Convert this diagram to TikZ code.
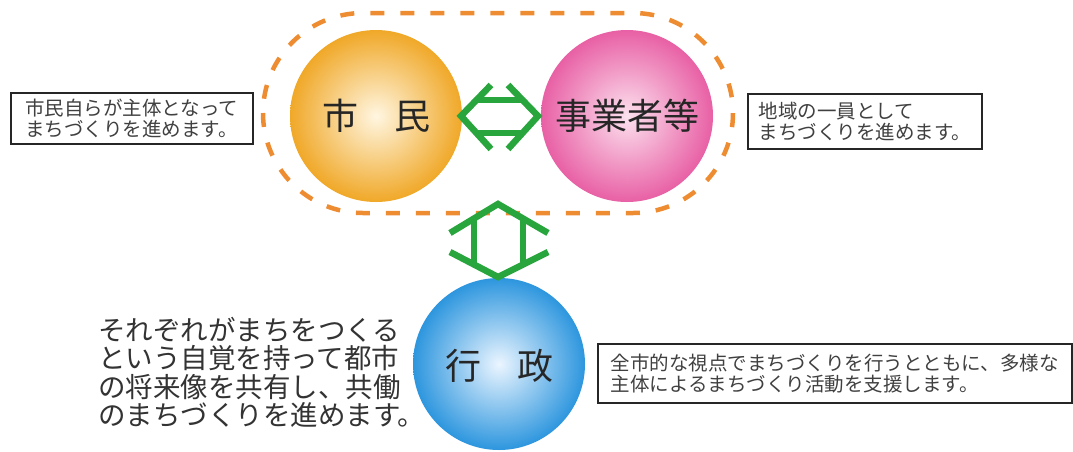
\documentclass[tikz,border=0pt]{standalone}
\usepackage{fontspec}
\setmainfont{Noto Sans CJK JP}
\usetikzlibrary{shadings}
\definecolor{dashor}{RGB}{238,140,50}
\definecolor{arrowgreen}{RGB}{40,165,60}
\definecolor{orout}{RGB}{240,168,40}
\definecolor{orin}{RGB}{255,246,225}
\definecolor{pkout}{RGB}{232,96,165}
\definecolor{pkin}{RGB}{252,225,238}
\definecolor{blout}{RGB}{45,150,222}
\definecolor{blin}{RGB}{235,245,255}
\tikzset{
  stadium/.style={draw=dashor, line width=4.5pt, dash pattern=on 14pt off 16pt},
  ball/.style={circle, minimum size=174pt, inner sep=0pt, font=\fontsize{36}{40}\selectfont, text=black!85},
  arr/.style={draw=arrowgreen, line width=6.5pt},
  infobox/.style={draw=black!85, line width=1.6pt, fill=white, align=left, inner xsep=6pt, inner ysep=4pt,
    font=\fontsize{19.5}{24}\selectfont, text=black!75},
  bigtext/.style={align=left, font=\fontsize{27.5}{28.5}\selectfont, text=black!80, inner sep=0pt}
}
\begin{document}
\begin{tikzpicture}[x=1pt,y=-1pt]
\useasboundingbox (0,0) rectangle (1073,451);
% dashed stadium
\draw[stadium, rounded corners=100pt] (263,13) rectangle (733,213);
% circles
\shade[inner color=orin, outer color=orout] (376,116) circle (86);
\shade[inner color=pkin, outer color=pkout] (627,116) circle (86);
\shade[inner color=blin, outer color=blout] (499,364) circle (86);
\node[ball] (shimin) at (376,116) {市　民};
\node[ball] (jigyo) at (627,116) {事業者等};
\node[ball] (gyosei) at (499,366) {行　政};
% horizontal double arrow
\draw[arr, line join=miter] (491,85) -- (461,116) -- (491,149);
\draw[arr, line join=miter] (508,85) -- (538,116) -- (508,149);
\draw[arr] (475,100) -- (524,100);
\draw[arr] (475,133) -- (524,133);
% vertical double arrow
\draw[arr, line join=miter] (450,233) -- (498,204) -- (548,233);
\draw[arr, line join=miter] (450,252) -- (498,277) -- (548,252);
\draw[arr] (474,218) -- (474,265);
\draw[arr] (523,218) -- (523,265);
% boxes
\node[infobox, anchor=north west, minimum width=242pt, minimum height=51pt] (lbox) at (10,92)
  {市民自らが主体となって\\[-3pt]まちづくりを進めます。};
\node[infobox, anchor=north west, minimum width=234pt, minimum height=55pt] (rbox) at (747,93)
  {地域の一員として\\[-3pt]まちづくりを進めます。};
\node[infobox, anchor=north west, minimum width=474pt, minimum height=59pt] (bbox) at (597,343)
  {全市的な視点でまちづくりを行うとともに、多様な\\[-3pt]主体によるまちづくり活動を支援します。};
\node[bigtext, anchor=north west] (btext) at (98,317)
  {それぞれがまちをつくる\\という自覚を持って都市\\の将来像を共有し、共働\\のまちづくりを進めます。};
\end{tikzpicture}
\end{document}
